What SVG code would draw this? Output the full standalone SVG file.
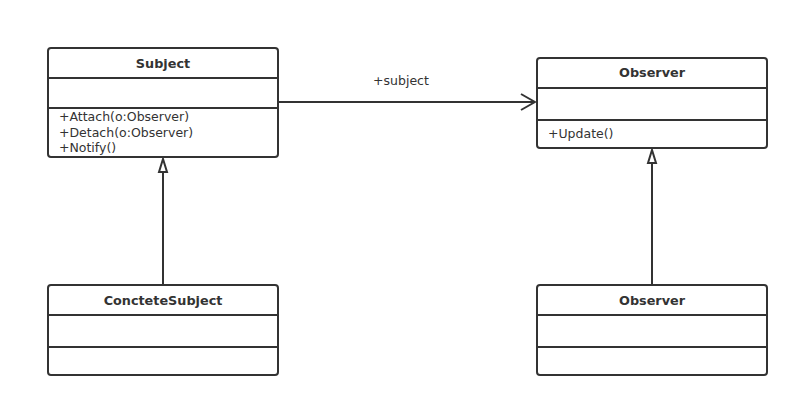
<svg xmlns="http://www.w3.org/2000/svg" width="799" height="407" viewBox="0 0 799 407">
<style>
.box{fill:#fff;stroke:#333;stroke-width:2}
.div{stroke:#333;stroke-width:2}
.t{font-family:"DejaVu Sans",sans-serif;font-size:12.8px;font-weight:bold;fill:#333;text-anchor:middle}
.m{font-family:"DejaVu Sans",sans-serif;font-size:12.5px;fill:#333}
.c{stroke:#333;stroke-width:2;fill:none}
</style>
<defs>
<marker id="open" viewBox="0 0 16 20" refX="15" refY="10" markerWidth="16" markerHeight="20" markerUnits="userSpaceOnUse" orient="auto">
<path d="M1,2 L15,10 L1,18" fill="none" stroke="#333" stroke-width="2"/>
</marker>
<marker id="tri" viewBox="0 0 16 12" refX="15" refY="6" markerWidth="16" markerHeight="12" markerUnits="userSpaceOnUse" orient="auto">
<path d="M2,2 L15,6 L2,10 Z" fill="#fff" stroke="#333" stroke-width="2"/>
</marker>
</defs>
<g id="connectors">
<line class="c" x1="278" y1="102" x2="535" y2="102" marker-end="url(#open)"/>
<text x="401" y="85" class="m" text-anchor="middle">+subject</text>
<line class="c" x1="163" y1="285" x2="163" y2="159" marker-end="url(#tri)"/>
<line class="c" x1="652" y1="285" x2="652" y2="150" marker-end="url(#tri)"/>
</g>
<g id="subject">
<rect class="box" x="48" y="48" width="230" height="109" rx="3"/>
<line class="div" x1="48" y1="78" x2="278" y2="78"/>
<line class="div" x1="48" y1="108" x2="278" y2="108"/>
<text class="t" x="163" y="68">Subject</text>
<text class="m" x="59" y="121">+Attach(o:Observer)</text>
<text class="m" x="59" y="136.5">+Detach(o:Observer)</text>
<text class="m" x="59" y="152">+Notify()</text>
</g>
<g id="observer">
<rect class="box" x="537" y="58" width="230" height="90" rx="3"/>
<line class="div" x1="537" y1="88" x2="767" y2="88"/>
<line class="div" x1="537" y1="120" x2="767" y2="120"/>
<text class="t" x="652" y="77">Observer</text>
<text class="m" x="548" y="138">+Update()</text>
</g>
<g id="concreteSubject">
<rect class="box" x="48" y="285" width="230" height="90" rx="3"/>
<line class="div" x1="48" y1="315" x2="278" y2="315"/>
<line class="div" x1="48" y1="347" x2="278" y2="347"/>
<text class="t" x="163" y="305">ConcteteSubject</text>
</g>
<g id="concreteObserver">
<rect class="box" x="537" y="285" width="230" height="90" rx="3"/>
<line class="div" x1="537" y1="315" x2="767" y2="315"/>
<line class="div" x1="537" y1="347" x2="767" y2="347"/>
<text class="t" x="652" y="305">Observer</text>
</g>
</svg>
